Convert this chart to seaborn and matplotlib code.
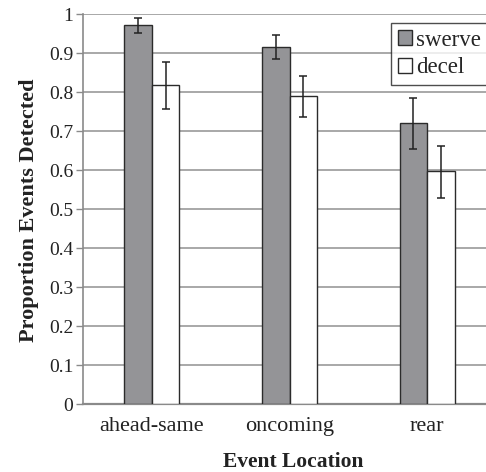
import matplotlib
matplotlib.use("Agg")
import matplotlib.pyplot as plt
import seaborn as sns
import pandas as pd
import numpy as np
from matplotlib.patches import Patch

categories = ["ahead-same", "oncoming", "rear"]
series = ["swerve", "decel"]
swerve_vals = [0.972, 0.917, 0.722]
decel_vals = [0.818, 0.790, 0.599]
swerve_lo = [0.952, 0.885, 0.655]
swerve_hi = [0.990, 0.946, 0.785]
decel_lo = [0.758, 0.737, 0.529]
decel_hi = [0.878, 0.843, 0.662]
yticks = [0, 0.1, 0.2, 0.3, 0.4, 0.5, 0.6, 0.7, 0.8, 0.9, 1]
ytick_labels = ["0", "0.1", "0.2", "0.3", "0.4", "0.5", "0.6", "0.7", "0.8", "0.9", "1"]

df = pd.DataFrame({
    "loc": categories * 2,
    "type": ["swerve"] * 3 + ["decel"] * 3,
    "val": swerve_vals + decel_vals,
    "lo": swerve_lo + decel_lo,
    "hi": swerve_hi + decel_hi,
})

sns.set_style("white")
plt.rcParams["font.family"] = ["Liberation Serif", "DejaVu Serif"]

fig = plt.figure(figsize=(4.86, 4.72), dpi=100)
W, H = 486, 472
L, R, T, B = 83, 496, 14.3, 404.3
ax = fig.add_axes([L / W, 1 - B / H, (R - L) / W, (B - T) / H])

sns.barplot(data=df, x="loc", y="val", hue="type", hue_order=series,
            order=categories, palette={"swerve": "#939498", "decel": "#ffffff"},
            width=0.4, errorbar=None, edgecolor="#2b2b2b", linewidth=1.0,
            ax=ax, legend=False, zorder=3)

# error bars at bar centers
for patch_group, s in zip([ax.patches[0:3], ax.patches[3:6]], series):
    sub = df[df["type"] == s].set_index("loc").loc[categories]
    xs = [p.get_x() + p.get_width() / 2 for p in patch_group]
    vals = sub["val"].values
    ax.errorbar(xs, vals, yerr=[vals - sub["lo"].values, sub["hi"].values - vals],
                fmt="none", ecolor="#222222", elinewidth=1.1, capsize=3.0,
                capthick=1.1, zorder=4)

ax.set_xlim(-0.5, 2.5)
ax.set_ylim(0, 1)
ax.set_yticks(yticks)
ax.set_yticklabels(ytick_labels)
ax.yaxis.grid(True, color="#9a9a9a", linewidth=1.2, zorder=0)
ax.set_axisbelow(True)
for side in ["top", "right"]:
    ax.spines[side].set_visible(False)
ax.spines["left"].set_color("#8a8a8a")
ax.spines["left"].set_linewidth(1.2)
ax.spines["bottom"].set_color("#8a8a8a")
ax.spines["bottom"].set_linewidth(1.6)
ax.tick_params(axis="y", length=5, width=1.0, color="#8a8a8a", labelsize=14, pad=2, left=True)
ax.tick_params(axis="x", length=0, labelsize=16, pad=9)
for t in ax.get_xticklabels() + ax.get_yticklabels():
    t.set_color("#222222")

ax.set_xlabel("Event Location", fontsize=15.5, fontweight="bold", color="#222222")
ax.set_ylabel("Proportion Events Detected", fontsize=16, fontweight="bold", color="#222222")
ax.yaxis.set_label_coords((39 - L) / (R - L), (B - 210.5) / (B - T))
ax.xaxis.set_label_coords((293 - L) / (R - L), -(452 - B) / (B - T))

handles = [Patch(facecolor="#939498", edgecolor="#2b2b2b", linewidth=1.0),
           Patch(facecolor="#ffffff", edgecolor="#2b2b2b", linewidth=1.0)]
leg = ax.legend(handles, series, loc="upper left",
                bbox_to_anchor=((391 - L) / (R - L), 1 - (22.7 - T) / (B - T)),
                frameon=True, fancybox=False, fontsize=16.5, handlelength=0.6,
                handleheight=0.6, handletextpad=0.2, borderpad=0.3, labelspacing=0.3,
                borderaxespad=0)
leg.get_frame().set_edgecolor("#222222")
leg.get_frame().set_linewidth(1.0)

fig.savefig("out.png", dpi=100)
